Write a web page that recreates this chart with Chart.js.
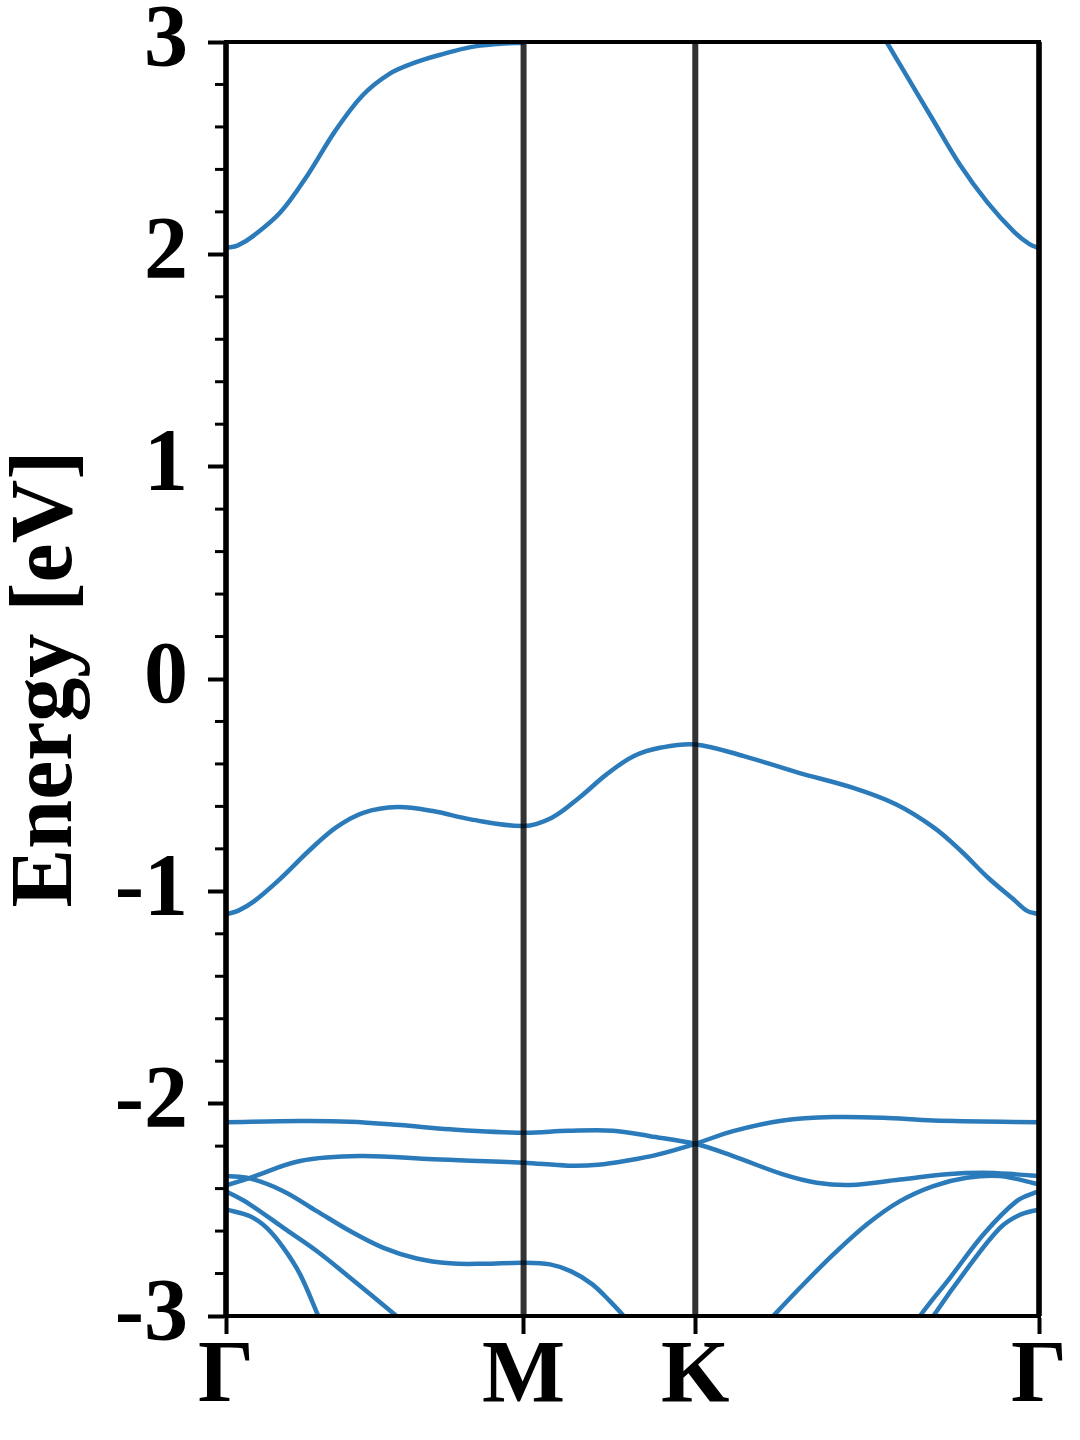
<!DOCTYPE html>
<html>
<head>
<meta charset="utf-8">
<script src="https://cdn.jsdelivr.net/npm/chart.js@4.4.1/dist/chart.umd.min.js"></script>
<style>
  html, body { margin: 0; padding: 0; background: #fff; }
  #wrap { width: 1080px; height: 1440px; position: relative; }
</style>
</head>
<body>
<div id="wrap"><canvas id="bands"></canvas></div>
<script>
// High symmetry points along the path (k distance, Γ-M = 1)
const kTicks = [0, 1, 1.577, 2.732];
const kLabels = ['Γ', 'M', 'K', 'Γ'];
const yMin = -3, yMax = 3;

// Conduction band (leaves the window between M and K)
const condK = [0, 0.04, 0.092, 0.183, 0.274, 0.366, 0.457, 0.548, 0.639, 0.731, 0.822, 0.910, 1.0, 1.3, 2.20, 2.220, 2.284, 2.375, 2.467, 2.558, 2.650, 2.700, 2.732];
const condE = [2.03, 2.042, 2.087, 2.198, 2.373, 2.579, 2.746, 2.849, 2.905, 2.944, 2.976, 2.990, 2.997, null, 3.05, 3.0, 2.849, 2.635, 2.421, 2.246, 2.103, 2.048, 2.03];

// Top valence band
const vbK = [0, 0.04, 0.095, 0.186, 0.278, 0.369, 0.461, 0.576, 0.695, 0.822, 1.0, 1.095, 1.187, 1.279, 1.371, 1.462, 1.577, 1.740, 1.922, 2.105, 2.251, 2.379, 2.470, 2.561, 2.653, 2.692, 2.732];
const vbE = [-1.108, -1.092, -1.046, -0.936, -0.81, -0.70, -0.63, -0.603, -0.622, -0.661, -0.692, -0.653, -0.559, -0.449, -0.363, -0.323, -0.308, -0.363, -0.441, -0.512, -0.590, -0.70, -0.81, -0.936, -1.046, -1.092, -1.108];

// Lower bands (crossing at K)
const b2K = [0, 0.249, 0.417, 0.585, 0.753, 1.0, 1.15, 1.3, 1.425, 1.577, 1.704, 1.872, 1.985, 2.097, 2.265, 2.433, 2.545, 2.657, 2.732];
const b2E = [-2.087, -2.082, -2.085, -2.101, -2.121, -2.137, -2.128, -2.127, -2.153, -2.189, -2.247, -2.333, -2.372, -2.383, -2.357, -2.331, -2.325, -2.333, -2.341];

const b3K = [0, 0.081, 0.249, 0.450, 0.697, 1.0, 1.15, 1.25, 1.35, 1.45, 1.577, 1.704, 1.872, 2.040, 2.208, 2.376, 2.732];
const b3E = [-2.385, -2.349, -2.270, -2.247, -2.262, -2.278, -2.292, -2.288, -2.268, -2.24, -2.189, -2.129, -2.079, -2.063, -2.066, -2.079, -2.087];

const b4K = [0, 0.08, 0.193, 0.305, 0.417, 0.529, 0.641, 0.753, 0.865, 1.0, 1.089, 1.160, 1.230, 1.290, 1.340, 1.40];
const b4E = [-2.341, -2.352, -2.412, -2.506, -2.600, -2.679, -2.729, -2.752, -2.754, -2.749, -2.757, -2.790, -2.850, -2.930, -3.005, -3.10];

const b5K = [0, 0.081, 0.193, 0.305, 0.417, 0.573, 0.65];
const b5E = [-2.412, -2.475, -2.585, -2.694, -2.820, -3.0, -3.09];

const b6K = [0, 0.081, 0.137, 0.193, 0.249, 0.310, 0.34];
const b6E = [-2.498, -2.530, -2.585, -2.679, -2.804, -3.0, -3.1];

const b7K = [1.80, 1.839, 1.929, 2.041, 2.153, 2.265, 2.377, 2.489, 2.601, 2.732];
const b7E = [-3.06, -3.0, -2.867, -2.710, -2.569, -2.459, -2.388, -2.349, -2.341, -2.380];

const b8K = [2.30, 2.332, 2.433, 2.545, 2.657, 2.732];
const b8E = [-3.08, -3.0, -2.820, -2.616, -2.459, -2.412];

const b9K = [2.35, 2.377, 2.489, 2.601, 2.668, 2.732];
const b9E = [-3.07, -3.0, -2.780, -2.585, -2.523, -2.498];

const bandList = [
  [condK, condE], [vbK, vbE], [b2K, b2E], [b3K, b3E], [b4K, b4E],
  [b5K, b5E], [b6K, b6E], [b7K, b7E], [b8K, b8E], [b9K, b9E]
];

const blue = '#2b7bba';
const font = "'Liberation Serif', 'Times New Roman', serif";

// y ticks every 0.2, labels only on integers
const yTicks = [];
for (let i = yMin * 5; i <= yMax * 5; i++) yTicks.push(i / 5);
const isMajor = v => Math.abs(v - Math.round(v)) < 1e-6;

// vertical lines at the special points, minor ticks and the box
const framePlugin = {
  id: 'framePlugin',
  afterDatasetsDraw(chart) {
    const { ctx, chartArea: a, scales: { x, y } } = chart;
    ctx.save();
    ctx.strokeStyle = 'rgba(0,0,0,0.8)';
    ctx.lineWidth = 6;
    kTicks.forEach(k => {
      const px = x.getPixelForValue(k);
      ctx.beginPath();
      ctx.moveTo(px, a.top);
      ctx.lineTo(px, a.bottom);
      ctx.stroke();
    });
    ctx.strokeStyle = '#000';
    ctx.lineWidth = 3;
    yTicks.filter(v => !isMajor(v)).forEach(v => {
      const py = y.getPixelForValue(v);
      ctx.beginPath();
      ctx.moveTo(a.left - 11, py);
      ctx.lineTo(a.left, py);
      ctx.stroke();
    });
    ctx.lineWidth = 4;
    ctx.strokeRect(a.left, a.top, a.right - a.left, a.bottom - a.top);
    ctx.restore();
  }
};

new Chart(document.getElementById('bands'), {
  type: 'line',
  data: {
    datasets: bandList.map(([ks, es]) => ({
      data: ks.map((k, i) => ({ x: k, y: es[i] })),
      borderColor: blue,
      borderWidth: 4.5,
      pointRadius: 0,
      tension: 0.35,
      spanGaps: false
    }))
  },
  options: {
    responsive: true,
    maintainAspectRatio: false,
    animation: false,
    layout: { padding: { top: 42, right: 41, left: 0, bottom: 0 } },
    plugins: { legend: { display: false }, tooltip: { enabled: false } },
    scales: {
      x: {
        type: 'linear',
        min: 0,
        max: kTicks[kTicks.length - 1],
        afterBuildTicks: s => { s.ticks = kTicks.map(v => ({ value: v })); },
        afterFit: s => { s.height = 124; },
        ticks: {
          autoSkip: false,
          maxRotation: 0,
          padding: 5,
          color: '#000',
          font: { family: font, size: 88, weight: 'bold', lineHeight: 0.9 },
          callback: (v, i) => kLabels[i]
        },
        grid: { drawOnChartArea: false, tickLength: 18, tickColor: '#000', tickWidth: 4 },
        border: { color: '#000', width: 4 }
      },
      y: {
        min: yMin,
        max: yMax,
        afterBuildTicks: s => { s.ticks = yTicks.map(v => ({ value: v })); },
        afterFit: s => { s.width = 226; },
        title: {
          display: true,
          text: 'Energy [eV]',
          color: '#000',
          font: { family: font, size: 88, weight: 'bold', lineHeight: 1.1 },
          padding: 0
        },
        ticks: {
          autoSkip: false,
          padding: 20,
          color: '#000',
          font: { family: font, size: 88, weight: 'bold', lineHeight: 0.4 },
          callback: v => isMajor(v) ? String(Math.round(v)) : ''
        },
        grid: {
          drawOnChartArea: false,
          tickLength: 18,
          tickWidth: 4,
          tickColor: c => (c.tick && isMajor(c.tick.value)) ? '#000' : 'rgba(0,0,0,0)'
        },
        border: { color: '#000', width: 4 }
      }
    }
  },
  plugins: [framePlugin]
});
</script>
</body>
</html>
